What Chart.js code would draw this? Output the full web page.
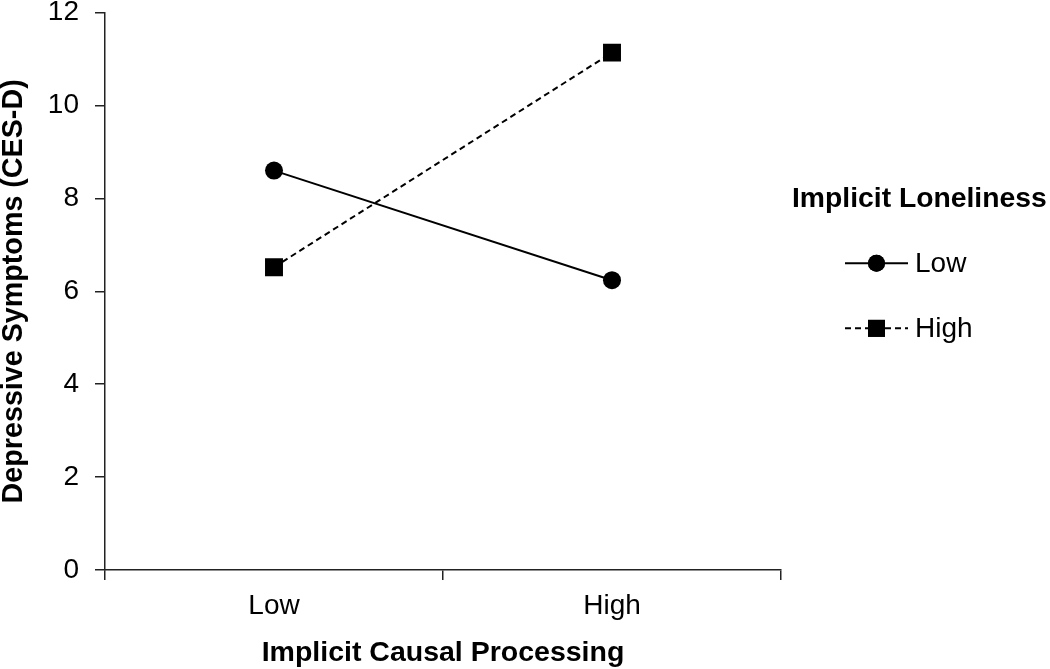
<!DOCTYPE html>
<html>
<head>
<meta charset="utf-8">
<script src="https://cdn.jsdelivr.net/npm/chart.js@4"></script>
<style>
  html, body { margin: 0; padding: 0; background: #fff; }
  #wrap { width: 1050px; height: 669px; }
</style>
</head>
<body>
<div id="wrap"><canvas id="grafico"></canvas></div>
<script>
const categorias = ["Low", "High"];
const serieBaixa = [8.6, 6.24];
const serieAlta = [6.52, 11.14];
const yTicks = [0, 2, 4, 6, 8, 10, 12];
const tituloLegenda = "Implicit Loneliness";

const fonte = "'Liberation Sans', Arial, sans-serif";

// legenda desenhada a mao, com linha + marcador
const legendaPlugin = {
    id: 'legendaLateral',
    afterDraw(chart) {
        const ctx = chart.ctx;
        const area = chart.chartArea;
        const cy = (area.top + area.bottom) / 2;
        ctx.save();
        ctx.fillStyle = '#000';
        ctx.font = 'bold 28.3px ' + fonte;
        ctx.textBaseline = 'middle';
        ctx.textAlign = 'left';
        ctx.fillText(tituloLegenda, area.right + 11, cy - 92);

        chart.data.datasets.forEach(function(ds, i) {
            const y = cy - 28 + i * 65;
            const x0 = area.right + 64;
            const x1 = x0 + 63;
            ctx.strokeStyle = ds.borderColor;
            ctx.lineWidth = 2;
            ctx.setLineDash(ds.borderDash || []);
            ctx.beginPath();
            ctx.moveTo(x0, y);
            ctx.lineTo(x1, y);
            ctx.stroke();
            ctx.setLineDash([]);
            Chart.helpers.drawPoint(ctx, {
                pointStyle: ds.pointStyle,
                radius: ds.pointStyle === 'rect' ? 12 : 8.5,
                borderWidth: 0
            }, (x0 + x1) / 2, y);
            ctx.fillStyle = '#000';
            ctx.fill();
            ctx.font = '28px ' + fonte;
            ctx.fillText(ds.label, x1 + 7, y + 1);
        });
        ctx.restore();
    }
};

new Chart(document.getElementById('grafico'), {
    type: 'line',
    data: {
        labels: categorias,
        datasets: [
            {
                label: "Low",
                data: serieBaixa,
                borderColor: "#000",
                backgroundColor: "#000",
                borderWidth: 2,
                pointStyle: 'circle',
                pointRadius: 9,
                pointBorderWidth: 0,
                tension: 0
            },
            {
                label: "High",
                data: serieAlta,
                borderColor: "#000",
                backgroundColor: "#000",
                borderWidth: 2,
                borderDash: [6, 4],
                pointStyle: 'rect',
                pointRadius: 12.7,
                pointBorderWidth: 0,
                tension: 0
            }
        ]
    },
    options: {
        responsive: true,
        maintainAspectRatio: false,
        animation: false,
        layout: { padding: { top: 11, right: 269, left: 0, bottom: 0 } },
        plugins: {
            legend: { display: false },
            tooltip: { enabled: false }
        },
        scales: {
            x: {
                offset: true,
                grid: {
                    offset: true,
                    drawOnChartArea: false,
                    drawTicks: true,
                    tickLength: 10,
                    color: '#222',
                    lineWidth: 1.5
                },
                border: { display: true, color: '#222', width: 1.5 },
                ticks: {
                    color: '#000',
                    font: { family: fonte, size: 28 },
                    padding: 9
                },
                title: {
                    display: true,
                    text: 'Implicit Causal Processing',
                    color: '#000',
                    font: { family: fonte, size: 28.5, weight: 'bold', lineHeight: 1 },
                    padding: { top: 0, bottom: 2 }
                },
                afterFit(scale) { scale.height = 99; }
            },
            y: {
                min: 0,
                max: 12,
                afterBuildTicks(scale) { scale.ticks = yTicks.map(v => ({ value: v })); },
                grid: {
                    drawOnChartArea: false,
                    drawTicks: true,
                    tickLength: 10,
                    color: '#222',
                    lineWidth: 1.5
                },
                border: { display: true, color: '#222', width: 1.5 },
                ticks: {
                    color: '#000',
                    font: { family: fonte, size: 28 },
                    padding: 16
                },
                title: {
                    display: true,
                    text: 'Depressive Symptoms (CES-D)',
                    color: '#000',
                    font: { family: fonte, size: 28.7, weight: 'bold', lineHeight: 1 },
                    padding: { top: 0, bottom: 0 }
                },
                afterFit(scale) {
                    scale.width = 105;
                    scale.paddingTop = 0;
                    scale.paddingBottom = 0;
                }
            }
        }
    },
    plugins: [legendaPlugin]
});
</script>
</body>
</html>
